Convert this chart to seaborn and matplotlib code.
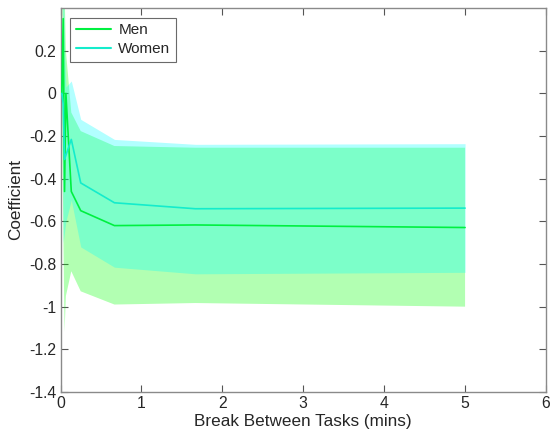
import numpy as np
import pandas as pd
import matplotlib
matplotlib.use("Agg")
import matplotlib.pyplot as plt
import seaborn as sns

# Break length in minutes and estimated coefficients with confidence bounds
breaks = [1/60, 2/60, 3/60, 4/60, 8/60, 15/60, 40/60, 100/60, 5.0]
men = [0.0, 0.35, -0.46, 0.0, -0.46, -0.55, -0.62, -0.617, -0.629]
men_hi = [0.0, 1.3, 0.5, 0.2, -0.09, -0.177, -0.247, -0.255, -0.255]
men_lo = [0.0, -0.6, -1.12, -0.95, -0.834, -0.928, -0.99, -0.983, -1.0]
women = [0.0, -0.05, -0.31, -0.29, -0.216, -0.42, -0.513, -0.541, -0.538]
women_hi = [0.0, 0.6, 0.2, 0.03, 0.058, -0.122, -0.216, -0.239, -0.236]
women_lo = [0.0, -0.7, -0.65, -0.6, -0.50, -0.72, -0.815, -0.846, -0.839]

y_ticks = [-1.4, -1.2, -1.0, -0.8, -0.6, -0.4, -0.2, 0.0, 0.2]
y_tick_labels = ["-1.4", "-1.2", "-1", "-0.8", "-0.6", "-0.4", "-0.2", "0", "0.2"]

groups = ["Men", "Women"]
line_colors = {"Men": "#00f040", "Women": "#14eccc"}
fill_colors = {"Men": "#00ff00", "Women": "#00ffff"}

sns.set_style("ticks")
plt.rcParams["font.family"] = ["Liberation Sans", "DejaVu Sans"]

df = pd.concat([
    pd.DataFrame({"Break": breaks, "Coefficient": men, "Group": "Men"}),
    pd.DataFrame({"Break": breaks, "Coefficient": women, "Group": "Women"}),
])

fig = plt.figure(figsize=(5.5, 4.42), dpi=100)
ax = fig.add_axes([60.5 / 550, 50 / 442, 485.5 / 550, 384 / 442])

ax.fill_between(breaks, men_lo, men_hi, color=fill_colors["Men"], alpha=0.3,
                linewidth=0, zorder=1)
ax.fill_between(breaks, women_lo, women_hi, color=fill_colors["Women"], alpha=0.3,
                linewidth=0, zorder=1)

sns.lineplot(data=df, x="Break", y="Coefficient", hue="Group", hue_order=groups,
             palette=line_colors, linewidth=1.2, ax=ax, sort=False,
             estimator=None, zorder=3)

ax.set_xlim(0, 6)
ax.set_ylim(-1.4, 0.4)
ax.set_xticks(range(0, 7))
ax.set_yticks(y_ticks)
ax.set_yticklabels(y_tick_labels)

spine_col = "#8a8a8a"
for s in ax.spines.values():
    s.set_visible(True)
    s.set_color(spine_col)
    s.set_linewidth(1.0)
ax.tick_params(direction="in", length=5, width=0.8, color="#555555",
               labelsize=11.3, labelcolor="#262626", top=True, right=True, pad=3)

ax.set_xlabel("Break Between Tasks (mins)", fontsize=12.3, color="#262626", labelpad=2)
ax.set_ylabel("Coefficient", fontsize=12.3, color="#262626", labelpad=4)

leg = ax.legend(loc="upper left", bbox_to_anchor=(0.02, 0.975), fontsize=11,
                frameon=True, fancybox=False, edgecolor="#6a6a6a", framealpha=1,
                handlelength=2.3, handletextpad=0.5, borderpad=0.35,
                labelspacing=0.35, borderaxespad=0)
leg.get_frame().set_linewidth(0.8)
for h in leg.get_lines():
    h.set_linewidth(1.5)

fig.savefig("out.png", dpi=100)
